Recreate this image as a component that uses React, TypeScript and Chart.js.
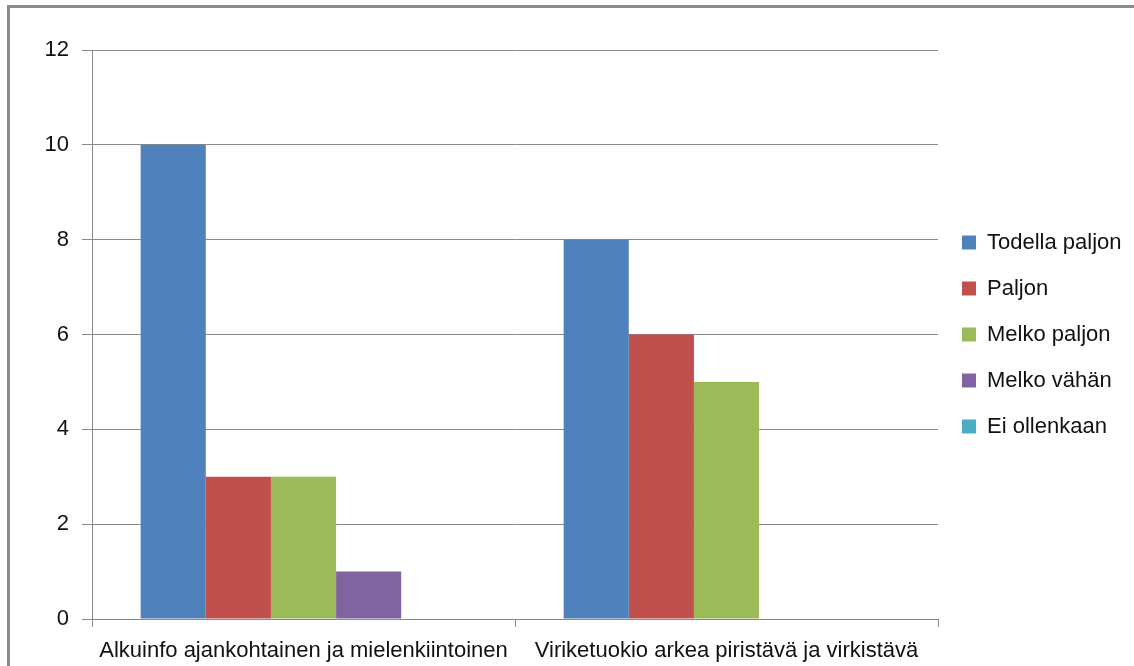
import React, { useEffect, useRef } from "react";
import { Chart, registerables } from "chart.js";

Chart.register(...registerables);

const categories = [
  "Alkuinfo ajankohtainen ja mielenkiintoinen",
  "Viriketuokio arkea piristävä ja virkistävä",
];
const seriesNames = ["Todella paljon", "Paljon", "Melko paljon", "Melko vähän", "Ei ollenkaan"];
const todellaPaljon = [10, 8];
const paljon = [3, 6];
const melkoPaljon = [3, 5];
const melkoVahan = [1, 0];
const eiOllenkaan = [0, 0];
const seriesColors = ["#4F81BD", "#C0504D", "#9BBB59", "#8064A2", "#4BACC6"];
const yMin = 0;
const yMax = 12;
const yStep = 2;

const W = 1134;
const H = 666;
const FONT = "'Liberation Sans', Arial, sans-serif";
const GRID = "#8a8a8a";
const LEGEND_W = 196;

const fixLegend = {
  id: "fixLegend",
  beforeLayout(chart: any) {
    const lg = chart.legend;
    if (lg && !lg._patched) {
      const orig = lg.fit.bind(lg);
      lg.fit = function () {
        orig();
        this.width = LEGEND_W;
      };
      lg._patched = true;
    }
  },
};

export default function App() {
  const ref = useRef<HTMLCanvasElement | null>(null);

  useEffect(() => {
    if (!ref.current) return;
    const values = [todellaPaljon, paljon, melkoPaljon, melkoVahan, eiOllenkaan];
    const chart = new Chart(ref.current, {
      type: "bar",
      data: {
        labels: categories,
        datasets: seriesNames.map((name, i) => ({
          label: name,
          data: values[i],
          backgroundColor: seriesColors[i],
          borderWidth: 0,
          categoryPercentage: 0.77,
          barPercentage: 1,
        })),
      },
      plugins: [fixLegend],
      options: {
        responsive: false,
        animation: false,
        layout: { padding: { top: 50, left: 0, right: 0, bottom: 0 } },
        plugins: {
          tooltip: { enabled: false },
          legend: {
            position: "right",
            fullSize: false,
            labels: {
              boxWidth: 14,
              boxHeight: 14,
              padding: 24,
              color: "#111",
              font: { family: FONT, size: 22 },
            },
          },
        },
        scales: {
          x: {
            afterFit: (s: any) => {
              s.height = 47;
            },
            grid: {
              display: true,
              drawOnChartArea: false,
              drawTicks: true,
              tickLength: 8,
              color: GRID,
              offset: true,
            },
            border: { display: true, color: GRID, width: 1 },
            ticks: {
              color: "#111",
              padding: 11,
              maxRotation: 0,
              autoSkip: false,
              font: { family: FONT, size: 22 },
            },
          },
          y: {
            min: yMin,
            max: yMax,
            afterFit: (s: any) => {
              s.width = 92;
            },
            grid: {
              color: GRID,
              lineWidth: 1,
              drawTicks: true,
              tickLength: 10,
            },
            border: { display: true, color: GRID, width: 1 },
            ticks: {
              stepSize: yStep,
              color: "#111",
              padding: 13,
              font: { family: FONT, size: 22 },
            },
          },
        },
      },
    });
    return () => chart.destroy();
  }, []);

  return (
    <div style={{ position: "fixed", left: 0, top: 0, width: W, height: H, background: "#fff", overflow: "hidden" }}>
      <div
        style={{
          position: "absolute",
          left: 7,
          top: 5,
          width: W + 50,
          height: H + 50,
          borderTop: "3px solid #8a8a8a",
          borderLeft: "3px solid #8a8a8a",
          boxSizing: "border-box",
        }}
      />
      <canvas ref={ref} width={W} height={H} style={{ position: "absolute", left: 0, top: 0 }} />
    </div>
  );
}
